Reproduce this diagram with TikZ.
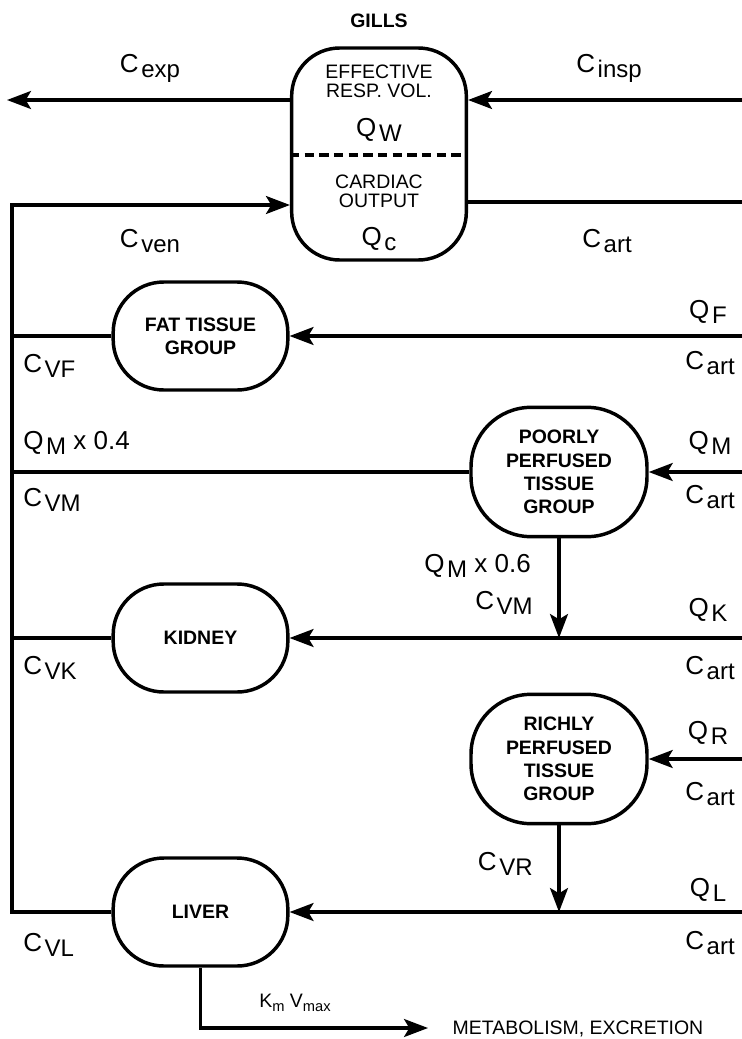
\documentclass[tikz,border=0pt]{standalone}
\usepackage{fontspec}
\setmainfont{Liberation Sans}
\usetikzlibrary{arrows.meta,calc}
\newcommand\sbs[1]{\kern2pt\raisebox{-3.8pt}{\fontsize{18}{18}\selectfont #1}}
\newcommand\ssbs[1]{\raisebox{-2.6pt}{\fontsize{11}{11}\selectfont #1}}
\begin{document}
\begin{tikzpicture}[x=0.75pt,y=-0.75pt,
  conn/.style={line width=2.3pt},
  arr/.style={-{Stealth[length=18pt,width=13.5pt,inset=4pt]}},
  organ/.style={draw,line width=2.6pt,inner sep=0pt,align=center,
    font=\bfseries\fontsize{14.6}{17.5}\selectfont},
  small/.style={organ,minimum width=131pt,minimum height=81pt,rounded corners=38pt},
  round/.style={organ,minimum width=132pt,minimum height=97pt,rounded corners=45pt},
  lab/.style={inner sep=0pt,font=\fontsize{19.5}{21}\selectfont},
  txt/.style={inner sep=0pt,font=\fontsize{14.6}{16}\selectfont},
]
\useasboundingbox (0,0) rectangle (742,1039);
% coordinates
\coordinate (expend) at (7,100);
\coordinate (inspR) at (742,100);
\coordinate (venL) at (12,205);
\coordinate (artR) at (742,202);
\coordinate (R) at (742,0);
\coordinate (metarrow) at (428,1028);

% nodes
\node[inner sep=0pt,font=\bfseries\fontsize{14.6}{16}\selectfont] (gillslab) at (379,21) {GILLS};
\node[draw,line width=2.6pt,minimum width=131pt,minimum height=159pt,rounded corners=36pt] (gills) at (379,154) {};
\node[txt] (eff) at (379,72) {EFFECTIVE};
\node[txt] (resp) at (379,91) {RESP. VOL.};
\node[lab] (qw) at (379,130) {Q\sbs{W}};
\node[txt] (card) at (379,182) {CARDIAC};
\node[txt] (outp) at (379,201) {OUTPUT};
\node[lab] (qc) at (379,239) {Q\sbs{c}};

\node[small] (fat) at (200.5,336) {FAT TISSUE\\GROUP};
\node[round] (poor) at (559,472) {POORLY\\PERFUSED\\TISSUE\\GROUP};
\node[small] (kid) at (200.5,638) {KIDNEY};
\node[round] (rich) at (559,759) {RICHLY\\PERFUSED\\TISSUE\\GROUP};
\node[small] (liver) at (200.5,912) {LIVER};

% labels
\node[lab] (cexp) at (150,68) {C\sbs{exp}};
\node[lab] (cinsp) at (609,68) {C\sbs{insp}};
\node[lab] (cven) at (150,241) {C\sbs{ven}};
\node[lab] (cart0) at (607,241) {C\sbs{art}};
\node[lab] (qf) at (708,312) {Q\sbs{F}};
\node[lab] (cart1) at (710,363) {C\sbs{art}};
\node[lab,anchor=west] (cvf) at (23,366) {C\sbs{VF}};
\node[lab,anchor=west] (qm4) at (23,443) {Q\sbs{M} x 0.4};
\node[lab,anchor=west] (cvm) at (23,500) {C\sbs{VM}};
\node[lab] (qm) at (710,443) {Q\sbs{M}};
\node[lab] (cart2) at (710,497) {C\sbs{art}};
\node[lab,anchor=east] (qm6) at (531,566) {Q\sbs{M} x 0.6};
\node[lab,anchor=east] (cvm2) at (533,603) {C\sbs{VM}};
\node[lab] (qk) at (708,610) {Q\sbs{K}};
\node[lab] (cart3) at (710,668) {C\sbs{art}};
\node[lab,anchor=west] (cvk) at (23,668) {C\sbs{VK}};
\node[lab] (qr) at (708,733) {Q\sbs{R}};
\node[lab] (cart4) at (710,794) {C\sbs{art}};
\node[lab,anchor=east] (cvr) at (533,864) {C\sbs{VR}};
\node[lab] (ql) at (708,890) {Q\sbs{L}};
\node[lab] (cart5) at (710,943) {C\sbs{art}};
\node[lab,anchor=west] (cvl) at (23,945) {C\sbs{VL}};
\node[txt] (kmv) at (295,1003) {K\ssbs{m} V\ssbs{max}};
\node[txt] (met) at (578,1029) {METABOLISM, EXCRETION};

% dashed divider
\draw[line width=2.3pt,dash pattern=on 7pt off 4pt] (gills.west |- 0,155) -- (gills.east |- 0,155);

% connectors
\draw[conn,arr] (gills.west |- inspR) -- (expend);
\draw[conn,arr] (inspR) -- (gills.east |- inspR);
\draw[conn,arr] (liver.west) -| (venL) -- (gills.west |- venL);
\draw[conn] (gills.east |- artR) -- (artR);
\draw[conn] (fat.west) -- (fat.west -| venL);
\draw[conn,arr] (fat.east -| R) -- (fat.east);
\draw[conn] (poor.west) -- (poor.west -| venL);
\draw[conn,arr] (poor.east -| R) -- (poor.east);
\draw[conn,arr] (poor.south) -- (poor.south |- kid.east);
\draw[conn] (kid.west) -- (kid.west -| venL);
\draw[conn,arr] (kid.east -| R) -- (kid.east);
\draw[conn,arr] (rich.east -| R) -- (rich.east);
\draw[conn,arr] (rich.south) -- (rich.south |- liver.east);
\draw[conn,arr] (liver.east -| R) -- (liver.east);
\draw[conn,arr] (liver.south) |- (metarrow);
\end{tikzpicture}
\end{document}
